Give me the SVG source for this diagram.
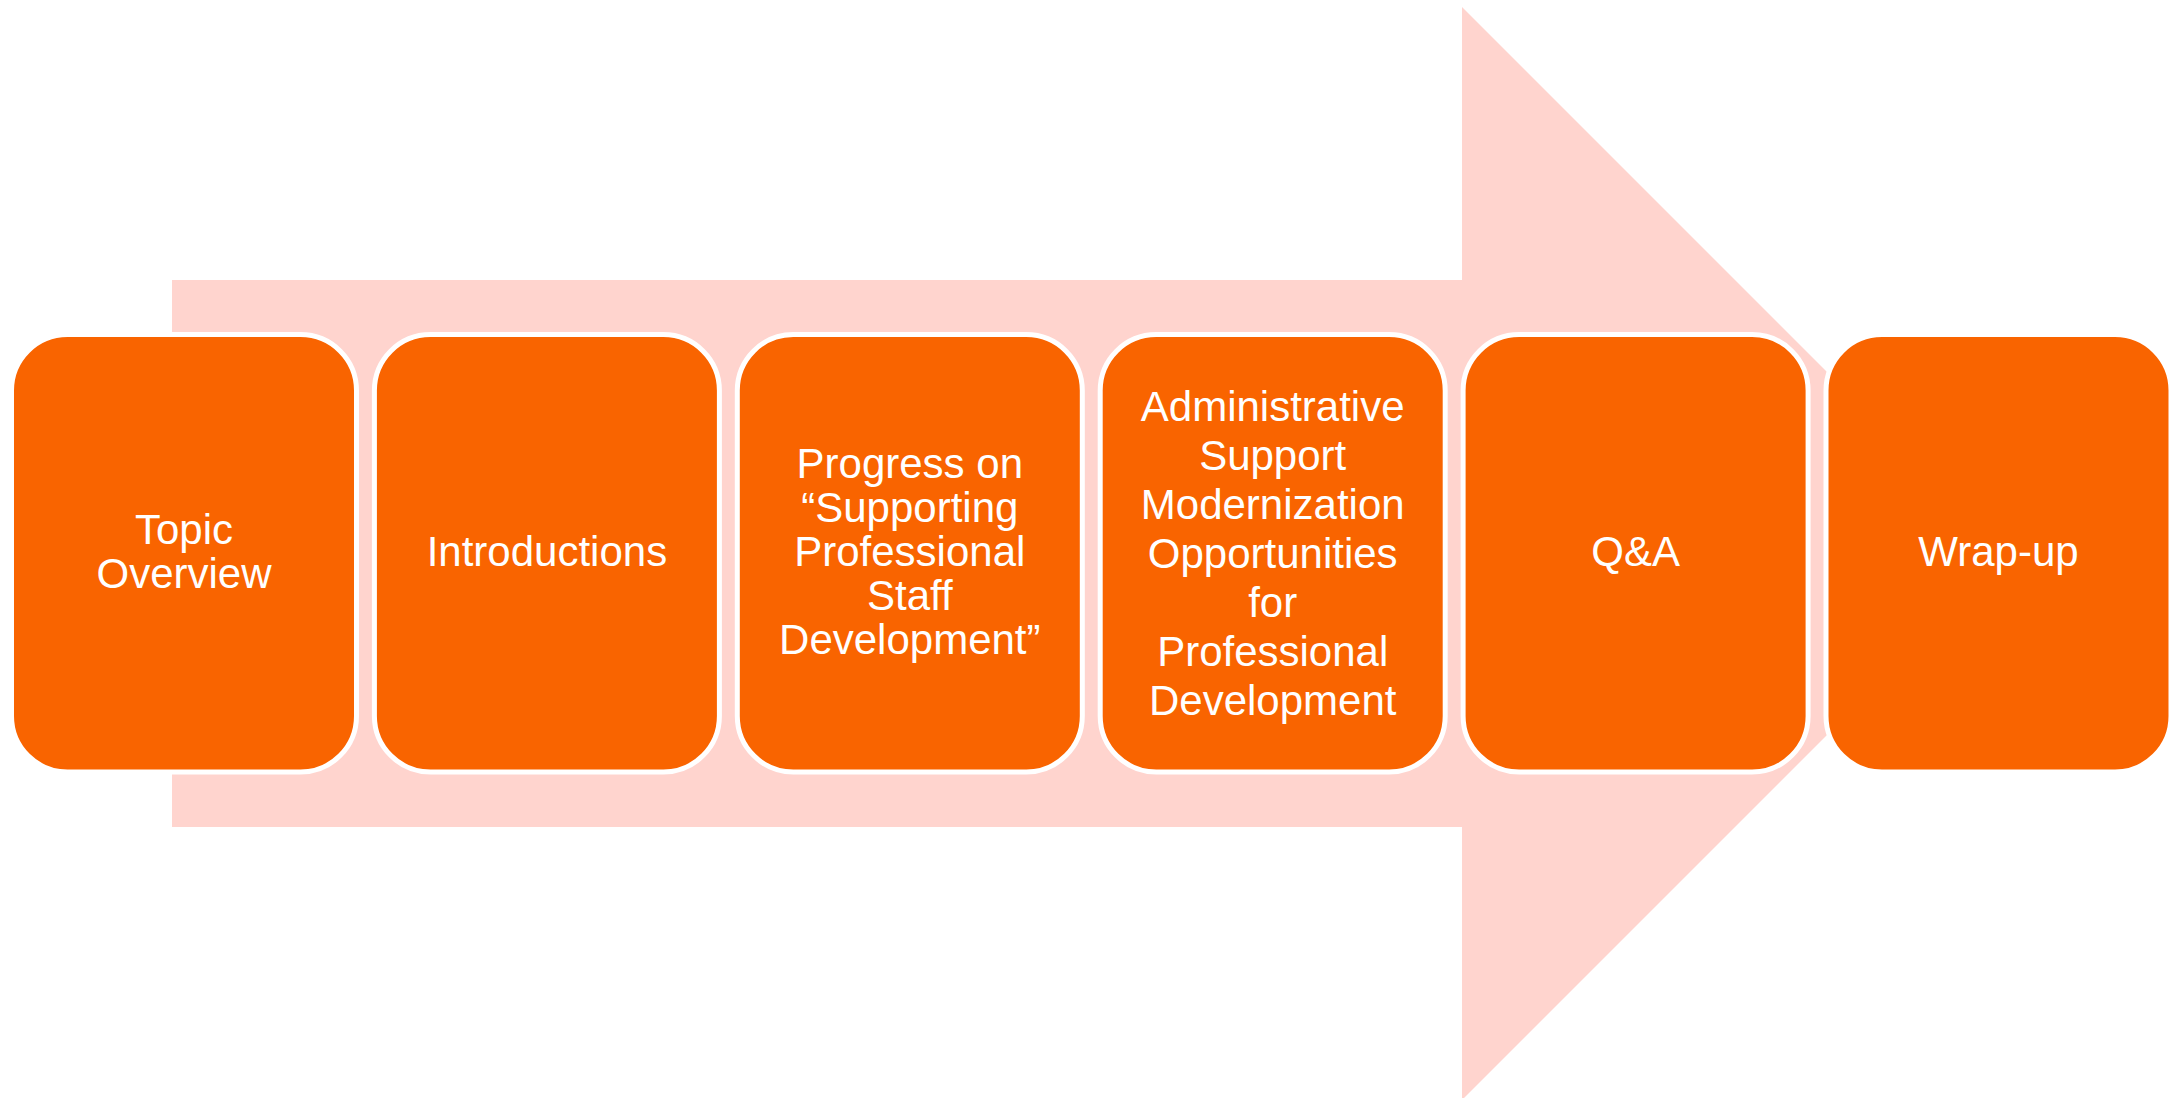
<svg xmlns="http://www.w3.org/2000/svg" width="2172" height="1098" viewBox="0 0 2172 1098">
<style>
.box{fill:#F96400;stroke:#FFFFFF;stroke-width:5}
.lbl{fill:#FFFFFF;font-family:"Liberation Sans",Arial,sans-serif;font-size:42px;text-anchor:middle}
</style>
<rect width="2172" height="1098" fill="#FFFFFF"/>
<g id="connectors">
<polygon id="arrow" points="172,280 1462,280 1462,7 2008.5,553.5 1462,1100 1462,827 172,827" fill="#FFD4CE"/>
</g>
<g id="node1">
<rect class="box" x="11.5" y="334.5" width="345" height="437.5" rx="56" ry="56"/>
<text class="lbl" x="184" y="544">Topic</text>
<text class="lbl" x="184" y="588">Overview</text>
</g>
<g id="node2">
<rect class="box" x="374.4" y="334.5" width="345" height="437.5" rx="56" ry="56"/>
<text class="lbl" x="546.9" y="566">Introductions</text>
</g>
<g id="node3">
<rect class="box" x="737.3" y="334.5" width="345" height="437.5" rx="56" ry="56"/>
<text class="lbl" x="909.8" y="478">Progress on</text>
<text class="lbl" x="909.8" y="522">“Supporting</text>
<text class="lbl" x="909.8" y="566">Professional</text>
<text class="lbl" x="909.8" y="610">Staff</text>
<text class="lbl" x="909.8" y="654">Development”</text>
</g>
<g id="node4">
<rect class="box" x="1100.2" y="334.5" width="345" height="437.5" rx="56" ry="56"/>
<text class="lbl" x="1272.7" y="421">Administrative</text>
<text class="lbl" x="1272.7" y="470">Support</text>
<text class="lbl" x="1272.7" y="519">Modernization</text>
<text class="lbl" x="1272.7" y="568">Opportunities</text>
<text class="lbl" x="1272.7" y="617">for</text>
<text class="lbl" x="1272.7" y="666">Professional</text>
<text class="lbl" x="1272.7" y="715">Development</text>
</g>
<g id="node5">
<rect class="box" x="1463.1" y="334.5" width="345" height="437.5" rx="56" ry="56"/>
<text class="lbl" x="1635.6" y="566">Q&amp;A</text>
</g>
<g id="node6">
<rect class="box" x="1826" y="334.5" width="345" height="437.5" rx="56" ry="56"/>
<text class="lbl" x="1998.5" y="566">Wrap-up</text>
</g>
</svg>
